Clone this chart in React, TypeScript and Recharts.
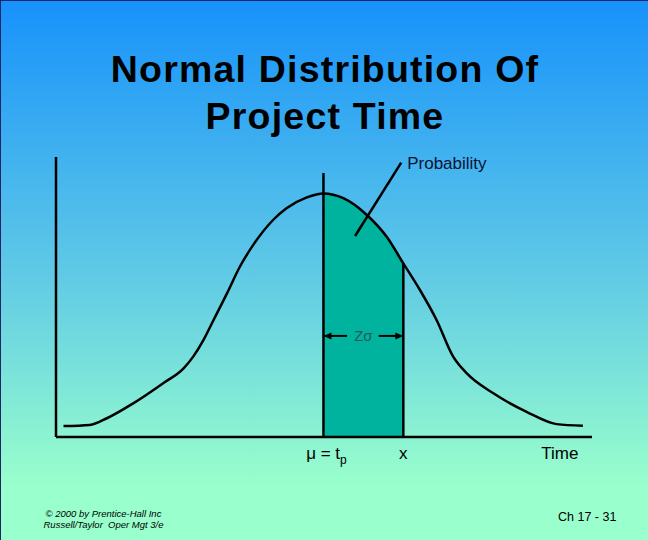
import React from "react";
import {
  ComposedChart,
  Line,
  Area,
  XAxis,
  YAxis,
  ReferenceLine,
  ReferenceDot,
} from "recharts";

// curve (time vs. probability height, 0-100 scales)
const timeValues = [
  1.4, 6.3, 9.5, 14.4, 20.0, 23.8, 25.6, 27.5, 29.4, 31.9, 34.3, 36.8, 40.5,
  43.0, 46.8, 49.9, 53.6, 58.0, 61.7, 64.8, 67.9, 71.0, 74.1, 76.6, 81.6, 87.8,
  93.4, 98.3,
];
const probValues = [
  3.9, 4.3, 6.7, 12.0, 19.2, 24.5, 28.7, 34.6, 41.8, 51.3, 60.8, 68.6, 77.5,
  81.7, 85.6, 87.0, 85.3, 79.3, 71.5, 62.0, 52.5, 41.8, 28.7, 22.8, 15.6, 9.0,
  4.6, 4.0,
];

// markers on the time axis
const muTime = 49.9;
const xTime = 64.8;
const muLineTop = 94.3;
const xLineTop = 62.0;
const tickPositions = [muTime, xTime, 94.0];
const tickLabels = ["μ = t", "x", "Time"];

// "Probability" pointer and Zσ dimension
const pointerFrom = { t: 55.8, p: 71.8 };
const pointerTo = { t: 64.4, p: 98.0 };
const zSigmaLevel = 36.1;
const zSigmaGapLeft = 54.3;
const zSigmaGapRight = 60.2;

const data = timeValues.map((t, i) => ({
  t,
  p: probValues[i],
  shade: t >= muTime && t <= xTime ? probValues[i] : null,
}));

const font = "'Liberation Sans', Arial, sans-serif";

const TimeTick = (props: any) => {
  const { x, y, payload } = props;
  const label = tickLabels[payload.index];
  if (payload.index === 0) {
    return (
      <text x={x + 3} y={y + 14} textAnchor="middle" fontSize={17} fill="#000" fontFamily={font}>
        <tspan>{label}</tspan>
        <tspan dy={5} fontSize={12}>p</tspan>
      </text>
    );
  }
  return (
    <text x={x} y={y + 14} textAnchor="middle" fontSize={17} fill="#000" fontFamily={font}>
      {label}
    </text>
  );
};

// line with an arrow head on the first end
const ArrowShape = (props: any) => {
  const { x1, y1, x2, y2 } = props;
  const dir = x2 > x1 ? 1 : -1;
  return (
    <g>
      <line x1={x1} y1={y1} x2={x2} y2={y2} stroke="#000" strokeWidth={2} />
      <polygon
        points={`${x1},${y1} ${x1 + dir * 8},${y1 - 3.5} ${x1 + dir * 8},${y1 + 3.5}`}
        fill="#000"
      />
    </g>
  );
};

export default function App() {
  return (
    <div
      style={{
        position: "absolute",
        left: 0,
        top: 0,
        width: 648,
        height: 540,
        boxSizing: "border-box",
        borderTop: "1px solid #1b2566",
        borderLeft: "1px solid #1b2566",
        background: "linear-gradient(to bottom, #1792fb 0%, #5fc9e6 50%, #99ffcc 90%)",
        fontFamily: font,
        overflow: "hidden",
      }}
    >
      <div
        style={{
          position: "absolute",
          left: 0,
          top: 45,
          width: 648,
          textAlign: "center",
          fontSize: 37.5,
          fontWeight: "bold",
          lineHeight: "47px",
          letterSpacing: 1.2,
          color: "#000",
        }}
      >
        Normal Distribution Of
        <br />
        Project Time
      </div>

      <ComposedChart
        width={648}
        height={540}
        data={data}
        margin={{ top: 157, right: 56, bottom: 73, left: 56 }}
        style={{ position: "absolute", left: -1, top: -1 }}
      >
        <XAxis
          dataKey="t"
          type="number"
          domain={[0, 100]}
          ticks={tickPositions}
          tick={<TimeTick />}
          tickLine={false}
          interval={0}
          height={30}
          axisLine={{ stroke: "#000", strokeWidth: 2.5 }}
        />
        <YAxis type="number" domain={[0, 100]} hide />
        <Area
          dataKey="shade"
          type="monotone"
          stroke="none"
          fill="#00b39f"
          fillOpacity={1}
          connectNulls={false}
          isAnimationActive={false}
        />
        <Line
          dataKey="p"
          type="monotone"
          stroke="#000"
          strokeWidth={2.5}
          dot={false}
          isAnimationActive={false}
        />
        {/* vertical (probability) axis */}
        <ReferenceLine
          segment={[{ x: 0, y: 0 }, { x: 0, y: 100 }]}
          stroke="#000"
          strokeWidth={2.5}
        />
        <ReferenceLine
          segment={[{ x: muTime, y: 0 }, { x: muTime, y: muLineTop }]}
          stroke="#000"
          strokeWidth={2.5}
        />
        <ReferenceLine
          segment={[{ x: xTime, y: 0 }, { x: xTime, y: xLineTop }]}
          stroke="#000"
          strokeWidth={2.5}
        />
        <ReferenceLine
          segment={[{ x: pointerFrom.t, y: pointerFrom.p }, { x: pointerTo.t, y: pointerTo.p }]}
          stroke="#000"
          strokeWidth={2.5}
        />
        <ReferenceLine
          segment={[{ x: muTime, y: zSigmaLevel }, { x: zSigmaGapLeft, y: zSigmaLevel }]}
          shape={ArrowShape}
        />
        <ReferenceLine
          segment={[{ x: xTime, y: zSigmaLevel }, { x: zSigmaGapRight, y: zSigmaLevel }]}
          shape={ArrowShape}
        />
        <ReferenceDot
          x={(muTime + xTime) / 2}
          y={zSigmaLevel}
          r={0}
          stroke="none"
          label={{ value: "Zσ", position: "center", fill: "#245a5c", fontSize: 15, fontFamily: font }}
        />
        <ReferenceDot
          x={pointerTo.t}
          y={pointerTo.p}
          r={0}
          stroke="none"
          label={{ value: "Probability", position: "right", offset: 6, fill: "#0b1236", fontSize: 17, fontFamily: font }}
        />
      </ComposedChart>

      <div
        style={{
          position: "absolute",
          left: 30,
          top: 507,
          width: 145,
          textAlign: "center",
          fontSize: 9.5,
          fontStyle: "italic",
          lineHeight: "11px",
          color: "#000",
        }}
      >
        © 2000 by Prentice-Hall Inc
        <br />
        Russell/Taylor&nbsp; Oper Mgt 3/e
      </div>
      <div
        style={{
          position: "absolute",
          left: 557,
          top: 508,
          fontSize: 12.5,
          lineHeight: "16px",
          color: "#000",
        }}
      >
        Ch 17 - 31
      </div>
    </div>
  );
}
